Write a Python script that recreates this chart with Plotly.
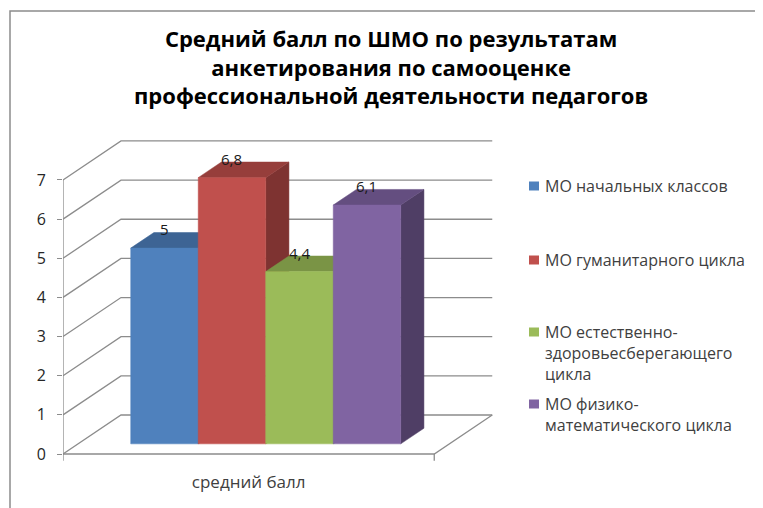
import plotly.graph_objects as go

# ---- data ----
categories = ["средний балл"]
series_names = ["МО начальных классов", "МО гуманитарного цикла",
                "МО естественно-<br>здоровьесберегающего<br>цикла",
                "МО физико-<br>математического цикла"]
values = [5.0, 6.8, 4.4, 6.1]
value_labels = ["5", "6,8", "4,4", "6,1"]
y_ticks = [0, 1, 2, 3, 4, 5, 6, 7]

front_colors = ["#4F81BD", "#C0504D", "#9BBB59", "#8064A2"]
top_colors = ["#3D6494", "#963E3B", "#7A9445", "#644E80"]
side_colors = ["#34557E", "#7E3331", "#667B3A", "#4F3E65"]

FONT = "Open Sans"

# ---- geometry (3D look projected into data coords) ----
W, H = 763, 508
PAGE_OFF = 8       # body margin of the page
L_PX, R_PX, T_PX, B_PX = 63, 513, 120, 470   # plot area in target pixels
SX = 67.5          # px per x unit (one bar width)
SY = 39.15         # px per value unit
X_RANGE = [0, (R_PX - L_PX) / SX]
Y_RANGE = [-(B_PX - 454) / SY, (454 - T_PX) / SY]
DX, DY = 58 / SX, 39 / SY      # full depth offset
FLOOR_W = 5.5
X0 = 0.78
Z0, Z1 = 0.26, 0.66
YMAX = 7


def proj(x, y, z):
    return x + z * DX, y + z * DY


def px2paper(px, py):
    return (px - L_PX) / (R_PX - L_PX), (B_PX - py) / (B_PX - T_PX)


fig = go.Figure()

# walls / gridlines
gx, gy = [], []
for v in y_ticks:
    p0 = proj(0, v, 0)
    p1 = proj(0, v, 1)
    p2 = proj(FLOOR_W, v, 1)
    gx += [p0[0], p1[0], p2[0], None]
    gy += [p0[1], p1[1], p2[1], None]
a = proj(0, 0, 0); b = proj(FLOOR_W, 0, 0); c = proj(FLOOR_W, 0, 1)
gx += [a[0], b[0], c[0], None]
gy += [a[1], b[1], c[1], None]
gx += [0, 0, None]
gy += [0, YMAX, None]
gx += [0, 0, None, FLOOR_W, FLOOR_W, None]
gy += [0, -0.17, None, 0, -0.17, None]
fig.add_trace(go.Scatter(x=gx, y=gy, mode="lines",
                         line=dict(color="#8C8C8C", width=1.3),
                         hoverinfo="skip", showlegend=False))

# bars
for i, v in enumerate(values):
    xl = X0 + i
    xr = xl + 1
    side = [proj(xr, 0, Z0), proj(xr, 0, Z1), proj(xr, v, Z1), proj(xr, v, Z0)]
    top = [proj(xl, v, Z0), proj(xr, v, Z0), proj(xr, v, Z1), proj(xl, v, Z1)]
    front = [proj(xl, 0, Z0), proj(xr, 0, Z0), proj(xr, v, Z0), proj(xl, v, Z0)]
    for poly, col in ((side, side_colors[i]), (top, top_colors[i]), (front, front_colors[i])):
        xs = [p[0] for p in poly] + [poly[0][0]]
        ys = [p[1] for p in poly] + [poly[0][1]]
        fig.add_trace(go.Scatter(x=xs, y=ys, mode="lines", fill="toself",
                                 fillcolor=col, line=dict(color=col, width=0.5),
                                 name=series_names[i].replace("<br>", " "),
                                 hoverinfo="name", showlegend=False))
    lx, ly = proj(xl + 0.5, v, Z0)
    fig.add_annotation(x=lx, y=ly, text=value_labels[i], showarrow=False,
                       yshift=19, font=dict(size=15, color="#1a1a1a", family=FONT))

# legend (manual)
legend_rows = [186, 260, 332, 404]
for i, name in enumerate(series_names):
    py = legend_rows[i]
    x0p, y0p = px2paper(529, py + 4.5)
    x1p, y1p = px2paper(539, py - 4.5)
    fig.add_shape(type="rect", xref="paper", yref="paper",
                  x0=x0p, y0=y0p, x1=x1p, y1=y1p,
                  fillcolor=front_colors[i], line=dict(width=0))
    ax, ay = px2paper(543, py - 13)
    fig.add_annotation(xref="paper", yref="paper", x=ax, y=ay, text=name,
                       showarrow=False, xanchor="left", yanchor="top",
                       align="left",
                       font=dict(size=16, color="#404040", family=FONT))

# outer frame
fx0, fy0 = px2paper(10, 11)
fx1, fy1 = px2paper(800, 540)
fig.add_shape(type="rect", xref="paper", yref="paper",
              x0=fx0, y0=fy1, x1=fx1, y1=fy0,
              line=dict(color="#8C8C8C", width=1.5), fillcolor="rgba(0,0,0,0)")

# title
tx, ty = px2paper(391, 21)
fig.add_annotation(xref="paper", yref="paper", x=tx, y=ty, xanchor="center",
                   yanchor="top",
                   text="<b>Средний балл по ШМО по результатам<br>анкетирования по самооценке<br>профессиональной деятельности педагогов</b>",
                   showarrow=False, align="center",
                   font=dict(size=22, color="#000000", family=FONT))

fig.update_layout(
    width=W, height=H,
    margin=dict(l=L_PX - PAGE_OFF, r=W - (R_PX - PAGE_OFF),
                t=T_PX - PAGE_OFF, b=H - (B_PX - PAGE_OFF)),
    paper_bgcolor="white", plot_bgcolor="rgba(0,0,0,0)",
    showlegend=False,
    xaxis=dict(range=X_RANGE, showgrid=False, zeroline=False, showline=False,
               tickvals=[FLOOR_W / 2], ticktext=categories, ticks="",
               tickfont=dict(size=17, color="#404040", family=FONT),
               fixedrange=True),
    yaxis=dict(range=Y_RANGE, showgrid=False, zeroline=False, showline=False,
               tickvals=y_ticks, ticktext=[str(t) for t in y_ticks],
               ticks="outside", ticklen=5, tickcolor="#8C8C8C", tickwidth=1.3,
               ticklabelstandoff=8,
               tickfont=dict(size=16, color="#262626", family=FONT),
               fixedrange=True),
)

fig.write_html("out.html")
